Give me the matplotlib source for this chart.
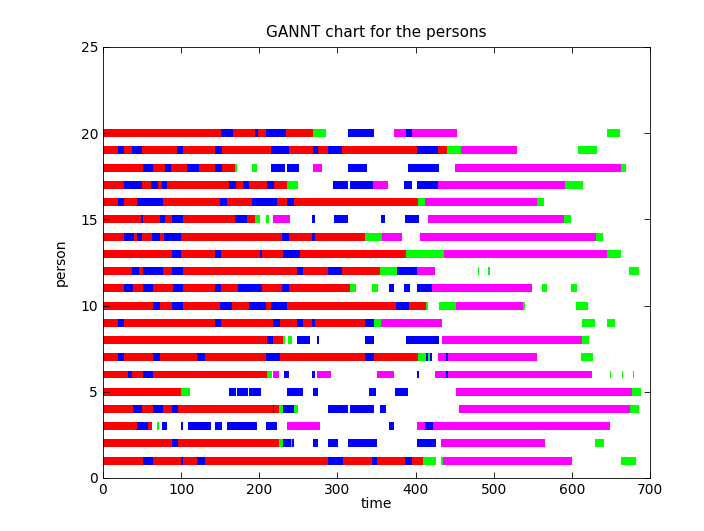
import matplotlib
matplotlib.use("Agg")
import matplotlib.pyplot as plt

# state of each person over time: (start, end, state)
# r = red, b = blue, g = green, m = magenta
p20 = [(0, 150.6, 'r'), (150.6, 165.9, 'b'), (165.9, 195, 'r'), (195, 198.4, 'b'), (198.4, 208.2, 'r'),
       (208.2, 234.2, 'b'), (234.2, 269.2, 'r'), (269.2, 285, 'g'), (313.1, 346.9, 'b'), (372.9, 387.4, 'm'),
       (387.4, 395.1, 'b'), (395.1, 452.6, 'm'), (645.4, 661.6, 'g')]
p19 = [(0, 19.6, 'r'), (19.6, 26.9, 'b'), (26.9, 37.5, 'r'), (37.5, 50.4, 'b'), (50.4, 95.2, 'r'),
       (95.2, 102.9, 'b'), (102.9, 143, 'r'), (143, 152.3, 'b'), (152.3, 214.6, 'r'), (214.6, 237.6, 'b'),
       (237.6, 269.2, 'r'), (269.2, 275.6, 'b'), (275.6, 288.4, 'r'), (288.4, 306.3, 'b'), (306.3, 401.8, 'r'),
       (401.8, 429.3, 'b'), (429.3, 439.9, 'r'), (439.9, 457.7, 'g'), (457.7, 530.2, 'm'), (608.3, 631.8, 'g')]
p18 = [(0, 51.6, 'r'), (51.6, 63.6, 'b'), (63.6, 79.4, 'r'), (79.4, 86.6, 'b'), (86.6, 108, 'r'),
       (108, 123.3, 'b'), (123.3, 143, 'r'), (143, 152.3, 'b'), (152.3, 168.9, 'r'), (168.9, 171.9, 'g'),
       (190.2, 196.7, 'g'), (215.4, 233.3, 'b'), (235.9, 250.9, 'b'), (269.2, 279.9, 'm'), (313.1, 337.9, 'b'),
       (390.8, 430, 'b'), (450.5, 663, 'm'), (663, 669.3, 'g')]
p17 = [(0, 26.9, 'r'), (26.9, 50.4, 'b'), (50.4, 61.4, 'r'), (61.4, 69.9, 'b'), (69.9, 75.5, 'r'),
       (75.5, 81.5, 'b'), (81.5, 161.7, 'r'), (161.7, 170.3, 'b'), (170.3, 178.8, 'r'), (178.8, 187.3, 'b'),
       (187.3, 209.5, 'r'), (209.5, 218.9, 'b'), (218.9, 235.1, 'r'), (235.1, 249.1, 'g'), (294.8, 313.1, 'b'),
       (316.1, 345.6, 'b'), (345.6, 364.4, 'm'), (384.8, 395.1, 'b'), (401.8, 429.2, 'b'), (429.2, 591.7, 'm'),
       (591.7, 613.8, 'g')]
p16 = [(0, 19.6, 'r'), (19.6, 26.9, 'b'), (26.9, 43.9, 'r'), (43.9, 76.4, 'b'), (76.4, 149.7, 'r'),
       (149.7, 159.2, 'b'), (159.2, 190.8, 'r'), (190.8, 222.2, 'b'), (222.2, 235.1, 'r'), (235.1, 244.5, 'b'),
       (244.5, 402.7, 'r'), (402.7, 412.1, 'g'), (412.1, 555, 'm'), (555, 564.4, 'g')]
p15 = [(0, 48.2, 'r'), (48.2, 51.6, 'b'), (51.6, 72.9, 'r'), (72.9, 79.4, 'b'), (79.4, 88.3, 'r'),
       (88.3, 102.9, 'b'), (102.9, 168.9, 'r'), (168.9, 183.9, 'b'), (183.9, 195, 'r'), (195, 201, 'g'),
       (208.6, 212.5, 'g'), (217.1, 239.4, 'm'), (267.9, 271.4, 'b'), (295.3, 313.1, 'b'), (355.8, 360.9, 'b'),
       (387, 404.4, 'b'), (416.4, 589.9, 'm'), (589.9, 599.4, 'g')]
p14 = [(0, 26.9, 'r'), (26.9, 39.7, 'b'), (39.7, 43.1, 'r'), (43.1, 50.4, 'b'), (50.4, 63.2, 'r'),
       (63.2, 72.9, 'b'), (72.9, 78.5, 'r'), (78.5, 99.5, 'b'), (99.5, 228.7, 'r'), (228.7, 238.5, 'b'),
       (238.5, 267.9, 'r'), (267.9, 271.4, 'b'), (271.4, 335.4, 'r'), (335.4, 356.7, 'g'), (356.7, 382.2, 'm'),
       (405.3, 630.9, 'm'), (630.9, 639.5, 'g')]
p13 = [(0, 88.3, 'r'), (88.3, 100.3, 'b'), (100.3, 143.4, 'r'), (143.4, 150.6, 'b'), (150.6, 201, 'r'),
       (201, 203.5, 'b'), (203.5, 229.9, 'r'), (229.9, 251.7, 'b'), (251.7, 387.4, 'r'), (387.4, 436.9, 'g'),
       (436.9, 645.4, 'm'), (645.4, 662.6, 'g')]
p12 = [(0, 36.7, 'r'), (36.7, 46.2, 'b'), (46.2, 51.6, 'r'), (51.6, 76.4, 'b'), (76.4, 88.3, 'r'),
       (88.3, 102.9, 'b'), (102.9, 247.9, 'r'), (247.9, 256.4, 'b'), (256.4, 287.6, 'r'), (287.6, 306.3, 'b'),
       (306.3, 354.5, 'r'), (354.5, 375.9, 'g'), (375.9, 401.8, 'b'), (401.8, 424.9, 'm'), (479.6, 481, 'g'),
       (493.2, 494.8, 'g'), (673.6, 686.4, 'g')]
p11 = [(0, 26.9, 'r'), (26.9, 37.9, 'b'), (37.9, 51.6, 'r'), (51.6, 63.6, 'b'), (63.6, 90, 'r'),
       (90, 101.9, 'b'), (101.9, 143.4, 'r'), (143.4, 150.6, 'b'), (150.6, 172.8, 'r'), (172.8, 203.1, 'b'),
       (203.1, 228.7, 'r'), (228.7, 238.5, 'b'), (238.5, 316.1, 'r'), (316.1, 323.4, 'g'), (344.7, 352.4, 'g'),
       (366, 372, 'b'), (384.8, 393.3, 'b'), (401.8, 421.5, 'b'), (421.5, 548.6, 'm'), (561.4, 567.8, 'g'),
       (599.4, 607, 'g')]
p10 = [(0, 63.6, 'r'), (63.6, 72.9, 'b'), (72.9, 88.3, 'r'), (88.3, 102.9, 'b'), (102.9, 149.7, 'r'),
       (149.7, 164.7, 'b'), (164.7, 187.3, 'r'), (187.3, 208.6, 'b'), (208.6, 214.6, 'r'), (214.6, 235.1, 'b'),
       (235.1, 374.6, 'r'), (374.6, 391.7, 'b'), (391.7, 413, 'r'), (413, 416.4, 'g'), (430, 452.2, 'g'),
       (452.2, 537.9, 'm'), (537.9, 539.6, 'g'), (605.3, 621.1, 'g')]
p9 = [(0, 19.6, 'r'), (19.6, 26.9, 'b'), (26.9, 143.4, 'r'), (143.4, 150.6, 'b'), (150.6, 218, 'r'),
      (218, 226.7, 'b'), (226.7, 247.9, 'r'), (247.9, 256.4, 'b'), (256.4, 267.9, 'r'), (267.9, 271.4, 'b'),
      (271.4, 335.4, 'r'), (335.4, 347.3, 'b'), (347.3, 355.8, 'g'), (355.8, 433.4, 'm'), (612.6, 630, 'g'),
      (644.6, 655.7, 'g')]
p8 = [(0, 209.5, 'r'), (209.5, 218, 'b'), (218, 229.9, 'r'), (229.9, 233.3, 'g'), (237.2, 241.4, 'g'),
      (247.9, 264.5, 'b'), (273.4, 276.4, 'b'), (335.4, 347.3, 'b'), (387.4, 430, 'b'), (433.4, 613, 'm'),
      (613, 622.4, 'g')]
p7 = [(0, 19.6, 'r'), (19.6, 26.9, 'b'), (26.9, 63.6, 'r'), (63.6, 72.9, 'b'), (72.9, 120.7, 'r'),
      (120.7, 131, 'b'), (131, 208.6, 'r'), (208.6, 226.7, 'b'), (226.7, 335.4, 'r'), (335.4, 347.3, 'b'),
      (347.3, 402.7, 'r'), (402.7, 413, 'g'), (413, 415.6, 'b'), (415.6, 418.6, 'g'), (418.6, 421.5, 'b'),
      (429.2, 438.5, 'm'), (438.5, 442, 'b'), (442, 555.9, 'm'), (612.2, 626.6, 'g')]
p6 = [(0, 32.4, 'r'), (32.4, 36.7, 'b'), (36.7, 50.8, 'r'), (50.8, 63.6, 'b'), (63.6, 210.4, 'r'),
      (210.4, 215.9, 'g'), (217.1, 225.2, 'm'), (231.7, 238, 'b'), (267.9, 271.4, 'b'), (273.4, 291.8, 'm'),
      (350.7, 372.9, 'm'), (401.8, 404.4, 'b'), (424.9, 438.5, 'm'), (438.5, 442, 'b'), (442, 625.4, 'm'),
      (648.8, 650.7, 'g'), (663.8, 665.6, 'g'), (677.8, 679.7, 'g')]
p5 = [(0, 99.5, 'r'), (99.5, 111.4, 'g'), (160.8, 170.3, 'b'), (171.9, 186, 'b'), (187.3, 202.7, 'b'),
      (235.9, 256.4, 'b'), (269.2, 275.6, 'b'), (340.4, 349, 'b'), (373.7, 390.8, 'b'), (451.4, 677, 'm'),
      (677, 689, 'g')]
p4 = [(0, 38.9, 'r'), (38.9, 50.4, 'b'), (50.4, 63.6, 'r'), (63.6, 76.4, 'b'), (76.4, 88.3, 'r'),
      (88.3, 96.4, 'b'), (96.4, 217.1, 'r'), (217.1, 218.5, 'b'), (218.5, 225.6, 'r'), (225.6, 229.9, 'g'),
      (229.9, 244.5, 'b'), (244.5, 250, 'g'), (288.4, 313.1, 'b'), (316.1, 347.3, 'b'), (354.5, 361.7, 'b'),
      (455.7, 674.4, 'm'), (674.4, 686.4, 'g')]
p3 = [(0, 43.1, 'r'), (43.1, 57.1, 'b'), (57.1, 62.3, 'r'), (69.5, 72.1, 'g'), (75.5, 81.5, 'b'),
      (99.5, 101.9, 'b'), (108.8, 137.8, 'b'), (143, 152.3, 'b'), (159.2, 197.5, 'b'), (208.2, 222.2, 'b'),
      (235.9, 277.7, 'm'), (366, 372, 'b'), (401.8, 412.1, 'm'), (412.1, 422.3, 'b'), (422.3, 648.8, 'm')]
p2 = [(0, 88.3, 'r'), (88.3, 96, 'b'), (96, 225.6, 'r'), (225.6, 229.9, 'g'), (229.9, 240.2, 'b'),
      (240.2, 242, 'g'), (242, 244.5, 'b'), (269.2, 275.6, 'b'), (288.4, 301.2, 'b'), (313.1, 350.7, 'b'),
      (401.8, 426.6, 'b'), (432.6, 565.6, 'm'), (630, 641.1, 'g')]
p1 = [(0, 50.8, 'r'), (50.8, 63.6, 'b'), (63.6, 99.5, 'r'), (99.5, 101.9, 'b'), (101.9, 120.7, 'r'),
      (120.7, 131, 'b'), (131, 287.6, 'r'), (287.6, 306.8, 'b'), (306.8, 344.7, 'r'), (344.7, 350.7, 'b'),
      (350.7, 386.6, 'r'), (386.6, 395.1, 'b'), (395.1, 409.9, 'r'), (409.9, 426.6, 'g'), (432.6, 435.2, 'g'),
      (435.2, 599.8, 'm'), (662.6, 682.1, 'g')]

persons = [p1, p2, p3, p4, p5, p6, p7, p8, p9, p10,
           p11, p12, p13, p14, p15, p16, p17, p18, p19, p20]
state_colors = {'r': '#ff0000', 'b': '#0000ff', 'g': '#00ff00', 'm': '#ff00ff'}

fig = plt.figure(figsize=(7.04, 5.31), dpi=100)
ax = fig.add_axes([0.1463, 0.1, 0.7770, 0.8115])

for i, segs in enumerate(persons):
    for start, end, s in segs:
        ax.barh(i + 1, end - start, left=start, height=0.46,
                color=state_colors[s], linewidth=0)

ax.set_xlim(0, 700)
ax.set_ylim(0, 25)
ax.set_xticks(range(0, 701, 100))
ax.set_yticks(range(0, 26, 5))
ax.tick_params(direction='in', top=True, right=True, length=4.5, width=0.6,
               labelsize=10)
for sp in ax.spines.values():
    sp.set_linewidth(0.6)
ax.set_xlabel('time', fontsize=10, labelpad=0)
ax.set_ylabel('person', fontsize=10, labelpad=9)
ax.set_title('GANNT chart for the persons', fontsize=11, pad=7)

fig.savefig('out.png', dpi=100)
